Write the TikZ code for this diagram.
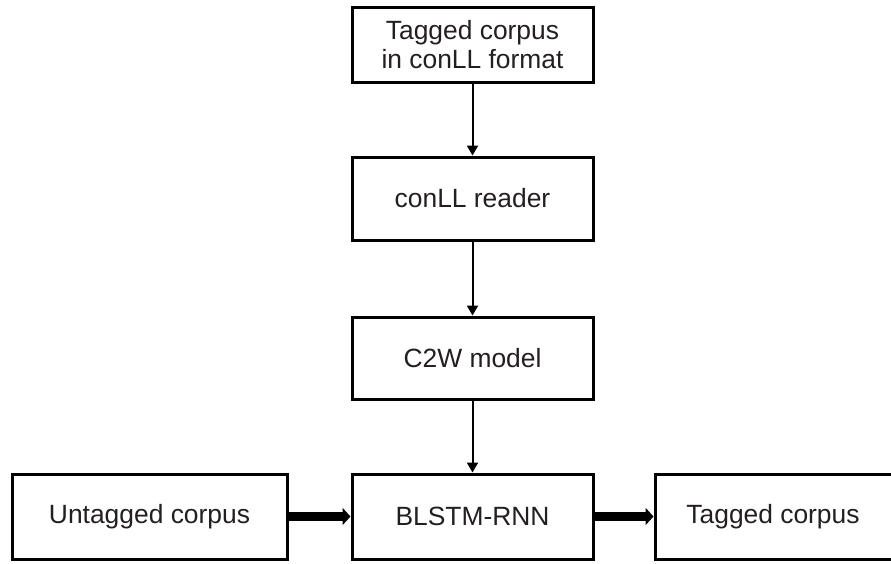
\documentclass[tikz,border=0pt]{standalone}
\usepackage{fontspec}
\setmainfont{Liberation Sans}
\usetikzlibrary{arrows.meta}
\definecolor{txt}{HTML}{231F20}
\begin{document}
\begin{tikzpicture}[x=1pt,y=-1pt,
  box/.style={draw=black,line width=3pt,rectangle,inner sep=0pt,align=center,
    font=\fontsize{26.4}{29}\selectfont,text=txt},
  thin/.style={line width=2pt,-{Triangle[length=10pt,width=11pt]}},
  thick/.style={line width=9pt,-{Triangle[length=8pt,width=17pt]}}]
\useasboundingbox (0,0) rectangle (891,563);
\clip (0,0) rectangle (891,563);
\node[box,minimum width=241pt,minimum height=75pt] (corpus) at (472.5,44.5) {Tagged corpus\\in conLL format};
\node[box,minimum width=241pt,minimum height=83pt] (reader) at (472.5,198.5) {conLL reader};
\node[box,minimum width=241pt,minimum height=82pt] (c2w) at (472.5,358) {C2W model};
\node[box,minimum width=241pt,minimum height=85pt] (blstm) at (472.5,516.5) {BLSTM-RNN};
\node[box,minimum width=275pt,minimum height=85pt] (untagged) at (149.5,516.5) {Untagged corpus};
\node[box,minimum width=240pt,minimum height=85pt] (tagged) at (775,516.5) {Tagged corpus\hspace{4pt}};
\draw[thin] (corpus.south) -- (reader.north);
\draw[thin] (reader.south) -- (c2w.north);
\draw[thin] (c2w.south) -- (blstm.north);
\draw[thick] (untagged.east) -- (blstm.west);
\draw[thick] (blstm.east) -- (tagged.west);
\end{tikzpicture}
\end{document}
